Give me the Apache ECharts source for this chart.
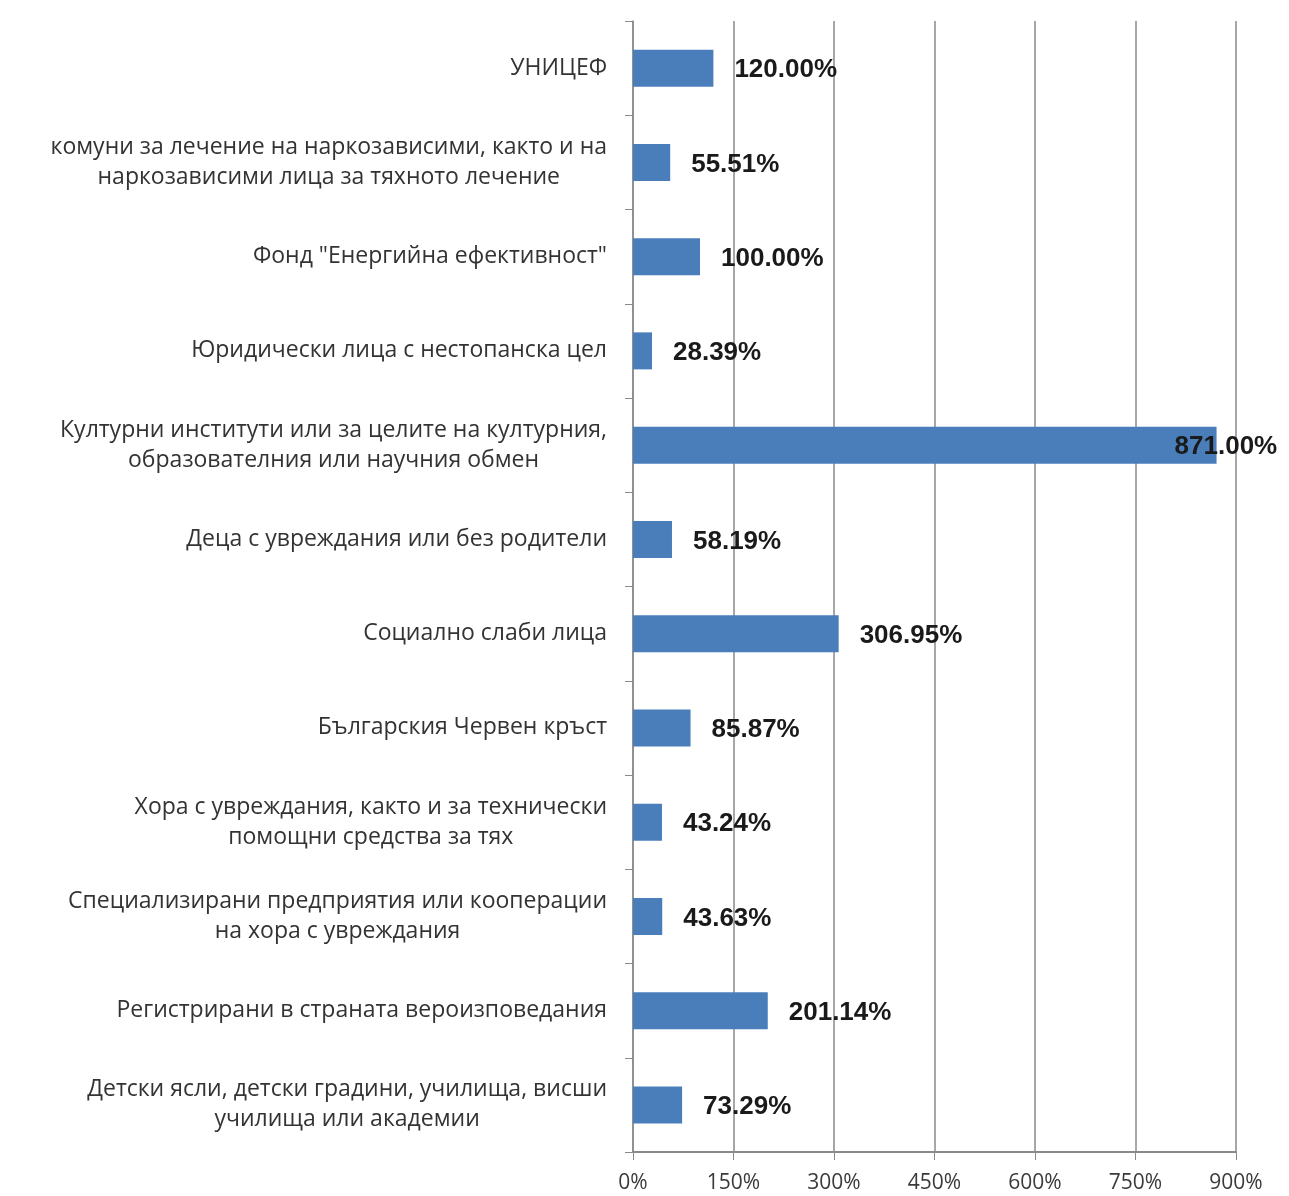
<!DOCTYPE html>
<html>
<head>
<meta charset="utf-8">
<script src="https://cdn.jsdelivr.net/npm/echarts@6/dist/echarts.min.js"></script>
<style>
  html, body { margin: 0; padding: 0; background: #fff; }
  #chart { width: 1289px; height: 1196px; }
</style>
</head>
<body>
<div id="chart"></div>
<script>
// категории (отгоре надолу)
const categories = [
  'УНИЦЕФ',
  'комуни за лечение на наркозависими, както и на\nнаркозависими лица за тяхното лечение',
  'Фонд "Енергийна ефективност"',
  'Юридически лица с нестопанска цел',
  'Културни институти или за целите на културния,\nобразователния или научния обмен',
  'Деца с увреждания или без родители',
  'Социално слаби лица',
  'Българския Червен кръст',
  'Хора с увреждания, както и за технически\nпомощни средства за тях',
  'Специализирани предприятия или кооперации\nна хора с увреждания',
  'Регистрирани в страната вероизповедания',
  'Детски ясли, детски градини, училища, висши\nучилища или академии'
];
const values = [120.00, 55.51, 100.00, 28.39, 871.00, 58.19, 306.95, 85.87, 43.24, 43.63, 201.14, 73.29];
const xTicks = [0, 150, 300, 450, 600, 750, 900];

const chart = echarts.init(document.getElementById('chart'));

const seriesData = values.map(function (v) {
  if (v > 800) {
    // етикетът излиза върху края на стълба
    return { value: v, label: { offset: [-63, 2] } };
  }
  return { value: v };
});

chart.setOption({
  animation: false,
  grid: { left: 633, right: 53, top: 21, bottom: 44, containLabel: false },
  xAxis: {
    type: 'value',
    min: xTicks[0],
    max: xTicks[xTicks.length - 1],
    interval: 150,
    axisLine: { show: true, lineStyle: { color: '#8a8a8a', width: 2 } },
    axisTick: { show: true, length: 8, lineStyle: { color: '#8a8a8a' } },
    splitLine: { show: true, lineStyle: { color: '#8a8a8a', width: 1.5 } },
    axisLabel: {
      formatter: '{value}%',
      margin: 21,
      fontSize: 21,
      color: '#3a3a3a',
      fontFamily: 'Open Sans'
    }
  },
  yAxis: {
    type: 'category',
    inverse: true,
    data: categories,
    axisLine: { show: true, lineStyle: { color: '#8a8a8a', width: 1.5 } },
    axisTick: { show: true, length: 8, lineStyle: { color: '#8a8a8a' } },
    axisLabel: {
      margin: 26,
      fontFamily: 'Open Sans',
      fontSize: 23,
      color: '#333',
      lineHeight: 30,
      formatter: function (val) {
        return val.split('\n').map(function (l) { return '{c|' + l + '}'; }).join('\n');
      },
      rich: {
        c: { align: 'center', fontFamily: 'Open Sans', fontSize: 23, color: '#333', lineHeight: 30 }
      }
    }
  },
  series: [{
    type: 'bar',
    data: seriesData,
    barWidth: 37,
    itemStyle: { color: '#4a7ebb' },
    label: {
      show: true,
      position: 'right',
      distance: 21,
      offset: [0, 2],
      fontFamily: 'Liberation Sans',
      fontWeight: 'bold',
      fontSize: 26,
      color: '#1a1a1a',
      formatter: function (p) { return p.value.toFixed(2) + '%'; }
    }
  }]
});
</script>
</body>
</html>
